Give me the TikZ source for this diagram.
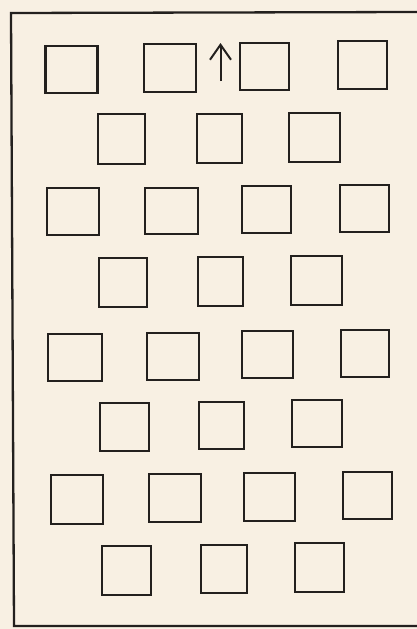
\documentclass[tikz,border=0pt]{standalone}
\usetikzlibrary{arrows.meta}
\definecolor{paper}{RGB}{248,240,227}
\definecolor{ink}{RGB}{35,32,30}
\begin{document}
\begin{tikzpicture}[x=1pt,y=-1pt,
  box/.style={draw=ink,line width=2.2pt,rectangle,inner sep=0pt,minimum width=#1},
  box/.default=50pt,
  frame/.style={draw=ink,line width=2.3pt},
  arrowline/.style={draw=ink,line width=2pt,-{Straight Barb[length=15pt,width=21pt,line width=2pt]}}]
\fill[paper] (0,0) rectangle (417,629);
\useasboundingbox (0,0) rectangle (417,629);
% frame (open on the right)
\draw[frame] (417,12) -- (11,13) -- (14,626) -- (417,626);
% row 1
\node[box=52pt,minimum height=47pt] (r1a) at (71.5,69.5) {};
\node[box=52pt,minimum height=48pt] (r1b) at (170,68) {};
\node[box=49pt,minimum height=47pt] (r1c) at (264.5,66.5) {};
\node[box=49pt,minimum height=48pt] (r1d) at (362.5,65) {};
% row 2
\node[box=47pt,minimum height=50pt] (r2a) at (121.5,139) {};
\node[box=45pt,minimum height=49pt] (r2b) at (219.5,138.5) {};
\node[box=51pt,minimum height=49pt] (r2c) at (314.5,137.5) {};
% row 3
\node[box=52pt,minimum height=47pt] (r3a) at (73,211.5) {};
\node[box=53pt,minimum height=46pt] (r3b) at (171.5,211) {};
\node[box=49pt,minimum height=47pt] (r3c) at (266.5,209.5) {};
\node[box=49pt,minimum height=47pt] (r3d) at (364.5,208.5) {};
% row 4
\node[box=48pt,minimum height=49pt] (r4a) at (123,282.5) {};
\node[box=45pt,minimum height=49pt] (r4b) at (220.5,281.5) {};
\node[box=51pt,minimum height=49pt] (r4c) at (316.5,280.5) {};
% row 5
\node[box=54pt,minimum height=47pt] (r5a) at (75,357.5) {};
\node[box=52pt,minimum height=47pt] (r5b) at (173,356.5) {};
\node[box=51pt,minimum height=47pt] (r5c) at (267.5,354.5) {};
\node[box=48pt,minimum height=47pt] (r5d) at (365,353.5) {};
% row 6
\node[box=49pt,minimum height=48pt] (r6a) at (124.5,427) {};
\node[box=45pt,minimum height=47pt] (r6b) at (221.5,425.5) {};
\node[box=50pt,minimum height=47pt] (r6c) at (317,423.5) {};
% row 7
\node[box=52pt,minimum height=49pt] (r7a) at (77,499.5) {};
\node[box=52pt,minimum height=48pt] (r7b) at (175,498) {};
\node[box=51pt,minimum height=48pt] (r7c) at (269.5,497) {};
\node[box=49pt,minimum height=47pt] (r7d) at (367.5,495.5) {};
% row 8
\node[box=49pt,minimum height=49pt] (r8a) at (126.5,570.5) {};
\node[box=46pt,minimum height=48pt] (r8b) at (224,569) {};
\node[box=49pt,minimum height=49pt] (r8c) at (319.5,567.5) {};
% arrow
\coordinate (arrowtail) at (220.5,81);
\coordinate (arrowhead) at (220.5,43);
\draw[arrowline] (arrowtail) -- (arrowhead);
\end{tikzpicture}
\end{document}
